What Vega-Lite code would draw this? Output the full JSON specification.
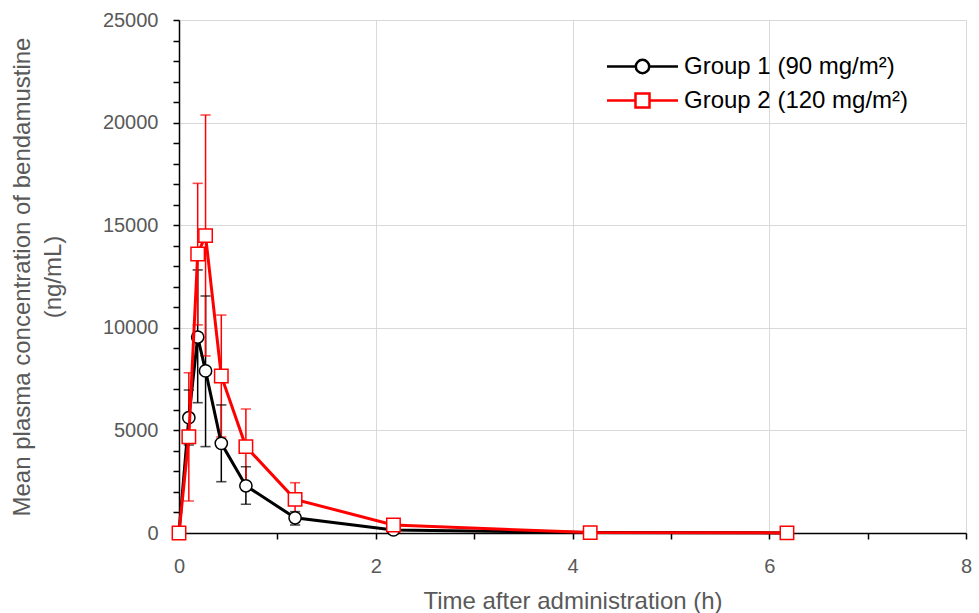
{
  "$schema": "https://vega.github.io/schema/vega-lite/v6.json",
  "autosize": "none",
  "width": 787,
  "height": 513,
  "padding": {"left": 179, "top": 20, "right": 13, "bottom": 80},
  "background": "white",
  "config": {
    "view": {"stroke": null},
    "font": "Liberation Sans",
    "axis": {
      "labelFont": "Liberation Sans",
      "titleFont": "Liberation Sans",
      "labelFontSize": 20,
      "titleFontSize": 24,
      "labelColor": "#595959",
      "titleColor": "#595959",
      "titleFontWeight": "normal",
      "domainColor": "black",
      "domainWidth": 1.5,
      "tickColor": "black",
      "tickWidth": 1.5,
      "tickSize": 6,
      "gridColor": "#d9d9d9",
      "gridWidth": 1,
      "labelOverlap": false
    }
  },
  "data": {
    "values": [
      {"group": "Group 1 (90 mg/m²)", "t": 0, "mean": 0, "lo": 0, "hi": 0},
      {"group": "Group 1 (90 mg/m²)", "t": 0.1, "mean": 5620, "lo": 4290, "hi": 6970},
      {"group": "Group 1 (90 mg/m²)", "t": 0.19, "mean": 9550, "lo": 6350, "hi": 12820},
      {"group": "Group 1 (90 mg/m²)", "t": 0.27, "mean": 7900, "lo": 4210, "hi": 11550},
      {"group": "Group 1 (90 mg/m²)", "t": 0.43, "mean": 4370, "lo": 2500, "hi": 6240},
      {"group": "Group 1 (90 mg/m²)", "t": 0.68, "mean": 2300, "lo": 1400, "hi": 3230},
      {"group": "Group 1 (90 mg/m²)", "t": 1.18, "mean": 740, "lo": 390, "hi": 1040},
      {"group": "Group 1 (90 mg/m²)", "t": 2.18, "mean": 150, "lo": 100, "hi": 200},
      {"group": "Group 1 (90 mg/m²)", "t": 4.18, "mean": 20, "lo": 15, "hi": 25},
      {"group": "Group 1 (90 mg/m²)", "t": 6.18, "mean": 5, "lo": 4, "hi": 6},
      {"group": "Group 2 (120 mg/m²)", "t": 0, "mean": 0, "lo": 0, "hi": 0},
      {"group": "Group 2 (120 mg/m²)", "t": 0.1, "mean": 4690, "lo": 1560, "hi": 7810},
      {"group": "Group 2 (120 mg/m²)", "t": 0.19, "mean": 13600, "lo": 10140, "hi": 17040},
      {"group": "Group 2 (120 mg/m²)", "t": 0.27, "mean": 14490, "lo": 8630, "hi": 20370},
      {"group": "Group 2 (120 mg/m²)", "t": 0.43, "mean": 7650, "lo": 4680, "hi": 10620},
      {"group": "Group 2 (120 mg/m²)", "t": 0.68, "mean": 4210, "lo": 2380, "hi": 6040},
      {"group": "Group 2 (120 mg/m²)", "t": 1.18, "mean": 1640, "lo": 830, "hi": 2450},
      {"group": "Group 2 (120 mg/m²)", "t": 2.18, "mean": 390, "lo": 290, "hi": 490},
      {"group": "Group 2 (120 mg/m²)", "t": 4.18, "mean": 20, "lo": 15, "hi": 25},
      {"group": "Group 2 (120 mg/m²)", "t": 6.18, "mean": 5, "lo": 4, "hi": 6}
    ]
  },
  "encoding": {
    "x": {
      "field": "t", "type": "quantitative",
      "scale": {"domain": [0, 8], "nice": false},
      "axis": {
        "title": "Time after administration (h)",
        "values": [0, 1, 2, 3, 4, 5, 6, 7, 8],
        "labelExpr": "datum.value % 2 === 0 ? datum.label : ''",
        "gridColor": {"condition": {"test": "datum.value % 2 === 0", "value": "#d9d9d9"}, "value": "rgba(0,0,0,0)"},
        "labelOverlap": false,
        "labelPadding": 17,
        "titlePadding": 13,
        "labelFlush": false
      }
    },
    "y": {
      "field": "mean", "type": "quantitative",
      "scale": {"domain": [0, 25000], "nice": false},
      "axis": {
        "title": ["Mean plasma concentration of bendamustine", "(ng/mL)"],
        "titleLineHeight": 31,
        "values": [0, 1000, 2000, 3000, 4000, 5000, 6000, 7000, 8000, 9000, 10000, 11000, 12000, 13000, 14000, 15000, 16000, 17000, 18000, 19000, 20000, 21000, 22000, 23000, 24000, 25000],
        "labelExpr": "datum.value % 5000 === 0 ? replace(datum.label, ',', '') : ''",
        "gridColor": {"condition": {"test": "datum.value % 5000 === 0", "value": "#d9d9d9"}, "value": "rgba(0,0,0,0)"},
        "labelOverlap": false,
        "labelPadding": 15,
        "titlePadding": 37,
        "labelFlush": false
      }
    },
    "color": {
      "field": "group", "type": "nominal",
      "scale": {"domain": ["Group 1 (90 mg/m²)", "Group 2 (120 mg/m²)"], "range": ["black", "#ff0000"]},
      "legend": {
        "title": null,
        "orient": "none",
        "legendX": 442,
        "legendY": 25,
        "labelFont": "Liberation Sans",
        "labelFontSize": 24,
        "labelColor": "black",
        "labelLimit": 400,
        "symbolSize": 100,
        "symbolOpacity": 1,
        "symbolStrokeWidth": 2.5,
        "symbolFillColor": "white",
        "rowPadding": 0,
        "labelOffset": 20,
        "encode": {
          "symbols": {
            "update": {
              "shape": {"signal": "datum.value === 'Group 1 (90 mg/m²)' ? 'M-1.775,0H-0.335M0.335,0H1.775M-0.335,0A0.335,0.335 0 1,0 0.335,0A0.335,0.335 0 1,0 -0.335,0Z' : 'M-1.775,0H-0.35M0.35,0H1.775M-0.35,-0.35H0.35V0.35H-0.35Z'"},
              "size": {"value": 1600},
              "fill": {"value": "white"},
              "fillOpacity": {"value": 1},
              "stroke": {"scale": "color", "field": "value"},
              "opacity": {"value": 1},
              "strokeWidth": {"value": 2.5}
            }
          }
        }
      }
    }
  },
  "layer": [
    {
      "mark": {"type": "rule", "strokeWidth": 1.5},
      "encoding": {
        "y": {"field": "lo", "type": "quantitative"},
        "y2": {"field": "hi"}
      }
    },
    {
      "mark": {"type": "tick", "orient": "horizontal", "size": 9, "thickness": 0.4, "filled": false, "strokeWidth": 1.2},
      "encoding": {"y": {"field": "lo", "type": "quantitative"}}
    },
    {
      "mark": {"type": "tick", "orient": "horizontal", "size": 9, "thickness": 0.4, "filled": false, "strokeWidth": 1.2},
      "encoding": {"y": {"field": "hi", "type": "quantitative"}}
    },
    {
      "transform": [{"filter": "datum.group === 'Group 1 (90 mg/m²)'"}],
      "mark": {"type": "line", "strokeWidth": 3}
    },
    {
      "transform": [{"filter": "datum.group === 'Group 1 (90 mg/m²)'"}],
      "mark": {"type": "point", "shape": "circle", "size": 150, "filled": false, "fill": "white", "fillOpacity": 1, "opacity": 1, "strokeWidth": 1.5}
    },
    {
      "transform": [{"filter": "datum.group === 'Group 2 (120 mg/m²)'"}],
      "mark": {"type": "line", "strokeWidth": 3}
    },
    {
      "transform": [{"filter": "datum.group === 'Group 2 (120 mg/m²)'"}],
      "mark": {"type": "point", "shape": "square", "size": 180, "filled": false, "fill": "white", "fillOpacity": 1, "opacity": 1, "strokeWidth": 1.5}
    }
  ]
}
